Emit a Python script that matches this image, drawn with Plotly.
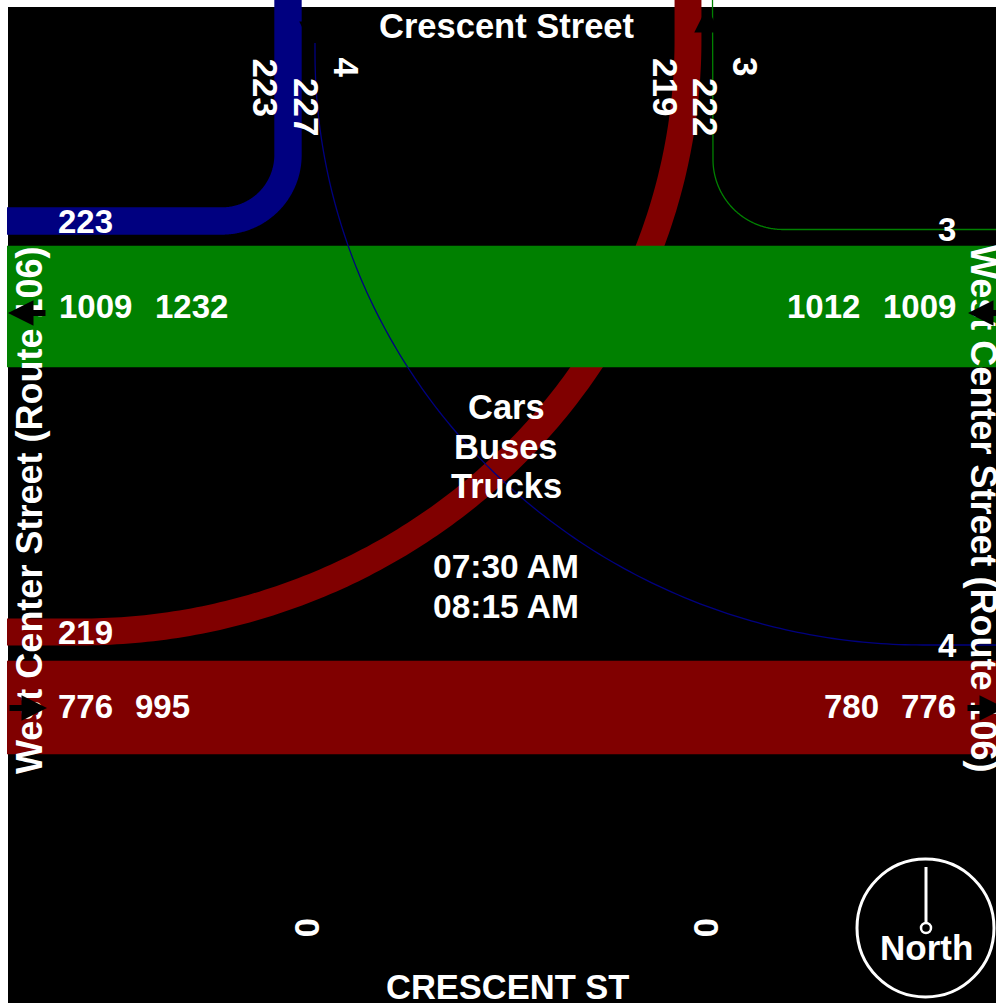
import numpy as np
import plotly.graph_objects as go

# ---- data ----
street_north = "Crescent Street"
street_south = "CRESCENT ST"
street_west_east = "West Center Street (Route 106)"
vehicle_classes = ["Cars", "Buses", "Trucks"]
time_window = ["07:30 AM", "08:15 AM"]

westbound_through = 1009   # green band
eastbound_through = 776    # maroon band
nw_turn_heavy = 223        # navy turn, north leg to west leg
ne_to_sw_curve = 219       # maroon curve
ne_to_e_turn = 3           # thin green turn
n_to_se_curve = 4          # thin navy curve

north_left_values = [223, 227, 4]
north_right_values = [219, 222, 3]
west_turn_values = [223, 219]
east_turn_values = [3, 4]
west_wb_values = [1009, 1232]
east_wb_values = [1012, 1009]
west_eb_values = [776, 995]
east_eb_values = [780, 776]
south_values = [0, 0]

# ---- styling ----
SCALE = 0.12
NAVY, GREEN, MAROON = "#000080", "#008000", "#800000"
FONT = "Liberation Sans, Arial, sans-serif"
FS = 33
FS_ROT = 35
FS_WORD = 34.5
FS_SIDE = 36


def w(v):
    return max(1.3, v * SCALE + 0.6)


def arc(cx, cy, rx, ry, a0, a1, n=160):
    t = np.radians(np.linspace(a0, a1, n))
    return cx + rx * np.cos(t), cy + ry * np.sin(t)


fig = go.Figure()


def path(xs, ys, value, color):
    fig.add_trace(go.Scatter(x=xs, y=ys, mode="lines", hoverinfo="skip",
                             line=dict(color=color, width=w(value), simplify=False)))


# maroon curve from north leg to west leg
ax, ay = arc(80, 40, 608, 592, 0, 90)
path(np.r_[688, ax, 7], np.r_[0, ay, 632], ne_to_sw_curve, MAROON)

# through bands
path([7, 996], [306.5, 306.5], westbound_through, GREEN)
path([7, 996], [707.5, 707.5], eastbound_through, MAROON)

# navy turn
ax, ay = arc(222, 155, 66, 66, 0, 90)
path(np.r_[288, ax, 7], np.r_[0, ay, 221], nw_turn_heavy, NAVY)

# thin green turn
ax, ay = arc(783, 159.5, 70, 70, 180, 90)
path(np.r_[712.5, ax, 996], np.r_[0, ay, 229.5], ne_to_e_turn, GREEN)

# thin navy curve
ax, ay = arc(923, 53, 608, 592, 180, 90)
path(np.r_[315, ax, 996], np.r_[43, ay, 645], n_to_se_curve, NAVY)

# compass needle
fig.add_trace(go.Scatter(x=[926, 926], y=[867, 923], mode="lines", hoverinfo="skip",
                         line=dict(color="white", width=3)))

ann = []


def label(text, x, y, angle=0, size=FS):
    ann.append(dict(text=f"<b>{text}</b>", x=x, y=y, textangle=angle, showarrow=False,
                    xanchor="center", yanchor="middle",
                    font=dict(family=FONT, size=size, color="white")))


def arrow(x0, y0, x1, y1):
    ann.append(dict(text="", x=x1, y=y1, ax=x0, ay=y0, axref="x", ayref="y",
                    showarrow=True, arrowhead=2, arrowsize=0.85, arrowwidth=6,
                    arrowcolor="black"))


label(street_north, 507, 26, size=FS_WORD)
label(street_south, 507, 987, size=FS_WORD)
label(street_west_east, 29, 511, -90, size=FS_SIDE)
label(street_west_east, 984, 508, 90, size=FS_SIDE)

for v, x, y in zip(north_left_values, [265.5, 307, 346.5], [87, 107, 67]):
    label(v, x, y, 90, size=FS_ROT)
for v, x, y in zip(north_right_values, [666, 706, 746], [87, 107, 66]):
    label(v, x, y, 90, size=FS_ROT)
for v, y in zip(west_turn_values, [221, 632]):
    label(v, 85, y)
for v, y in zip(east_turn_values, [229, 645]):
    label(v, 947, y)
for v, x in zip(west_wb_values, [95, 191]):
    label(v, x, 306)
for v, x in zip(east_wb_values, [823, 919]):
    label(v, x, 306)
for v, x in zip(west_eb_values, [85, 162]):
    label(v, x, 706)
for v, x in zip(east_eb_values, [851, 928]):
    label(v, x, 706)
for v, x in zip(south_values, [308, 707]):
    label(v, x, 927, 90, size=FS_ROT)
for t, y in zip(vehicle_classes, [407, 447, 486]):
    label(t, 506, y, size=FS_WORD)
for t, y in zip(time_window, [566, 606]):
    label(t, 506, y, size=33.5)
label("North", 926, 947, size=35)

# direction arrows
arrow(47, 313, 8, 313)
arrow(1007, 313, 968, 313)
arrow(8, 708, 47, 708)
arrow(966, 708, 1005, 708)
arrow(312, 6, 312, 47)
arrow(707, 47, 707, 7)

fig.update_layout(
    width=996, height=1003, margin=dict(l=0, r=0, t=0, b=0),
    paper_bgcolor="white", plot_bgcolor="rgba(0,0,0,0)", showlegend=False,
    xaxis=dict(range=[0, 996], visible=False, fixedrange=True),
    yaxis=dict(range=[1003, 0], visible=False, fixedrange=True),
    annotations=ann,
    shapes=[
        dict(type="rect", x0=8, x1=996, y0=7, y1=1003, layer="below",
             fillcolor="black", line=dict(width=0)),
        dict(type="circle", x0=857, x1=994, y0=859, y1=997, layer="above",
             line=dict(color="white", width=3)),
        dict(type="circle", x0=921, x1=931, y0=923, y1=933, layer="above",
             fillcolor="black", line=dict(color="white", width=2.5)),
    ],
)
fig.write_html("out.html", config=dict(displayModeBar=False),
               post_script="document.body.style.margin='0';document.body.style.overflow='hidden';")
